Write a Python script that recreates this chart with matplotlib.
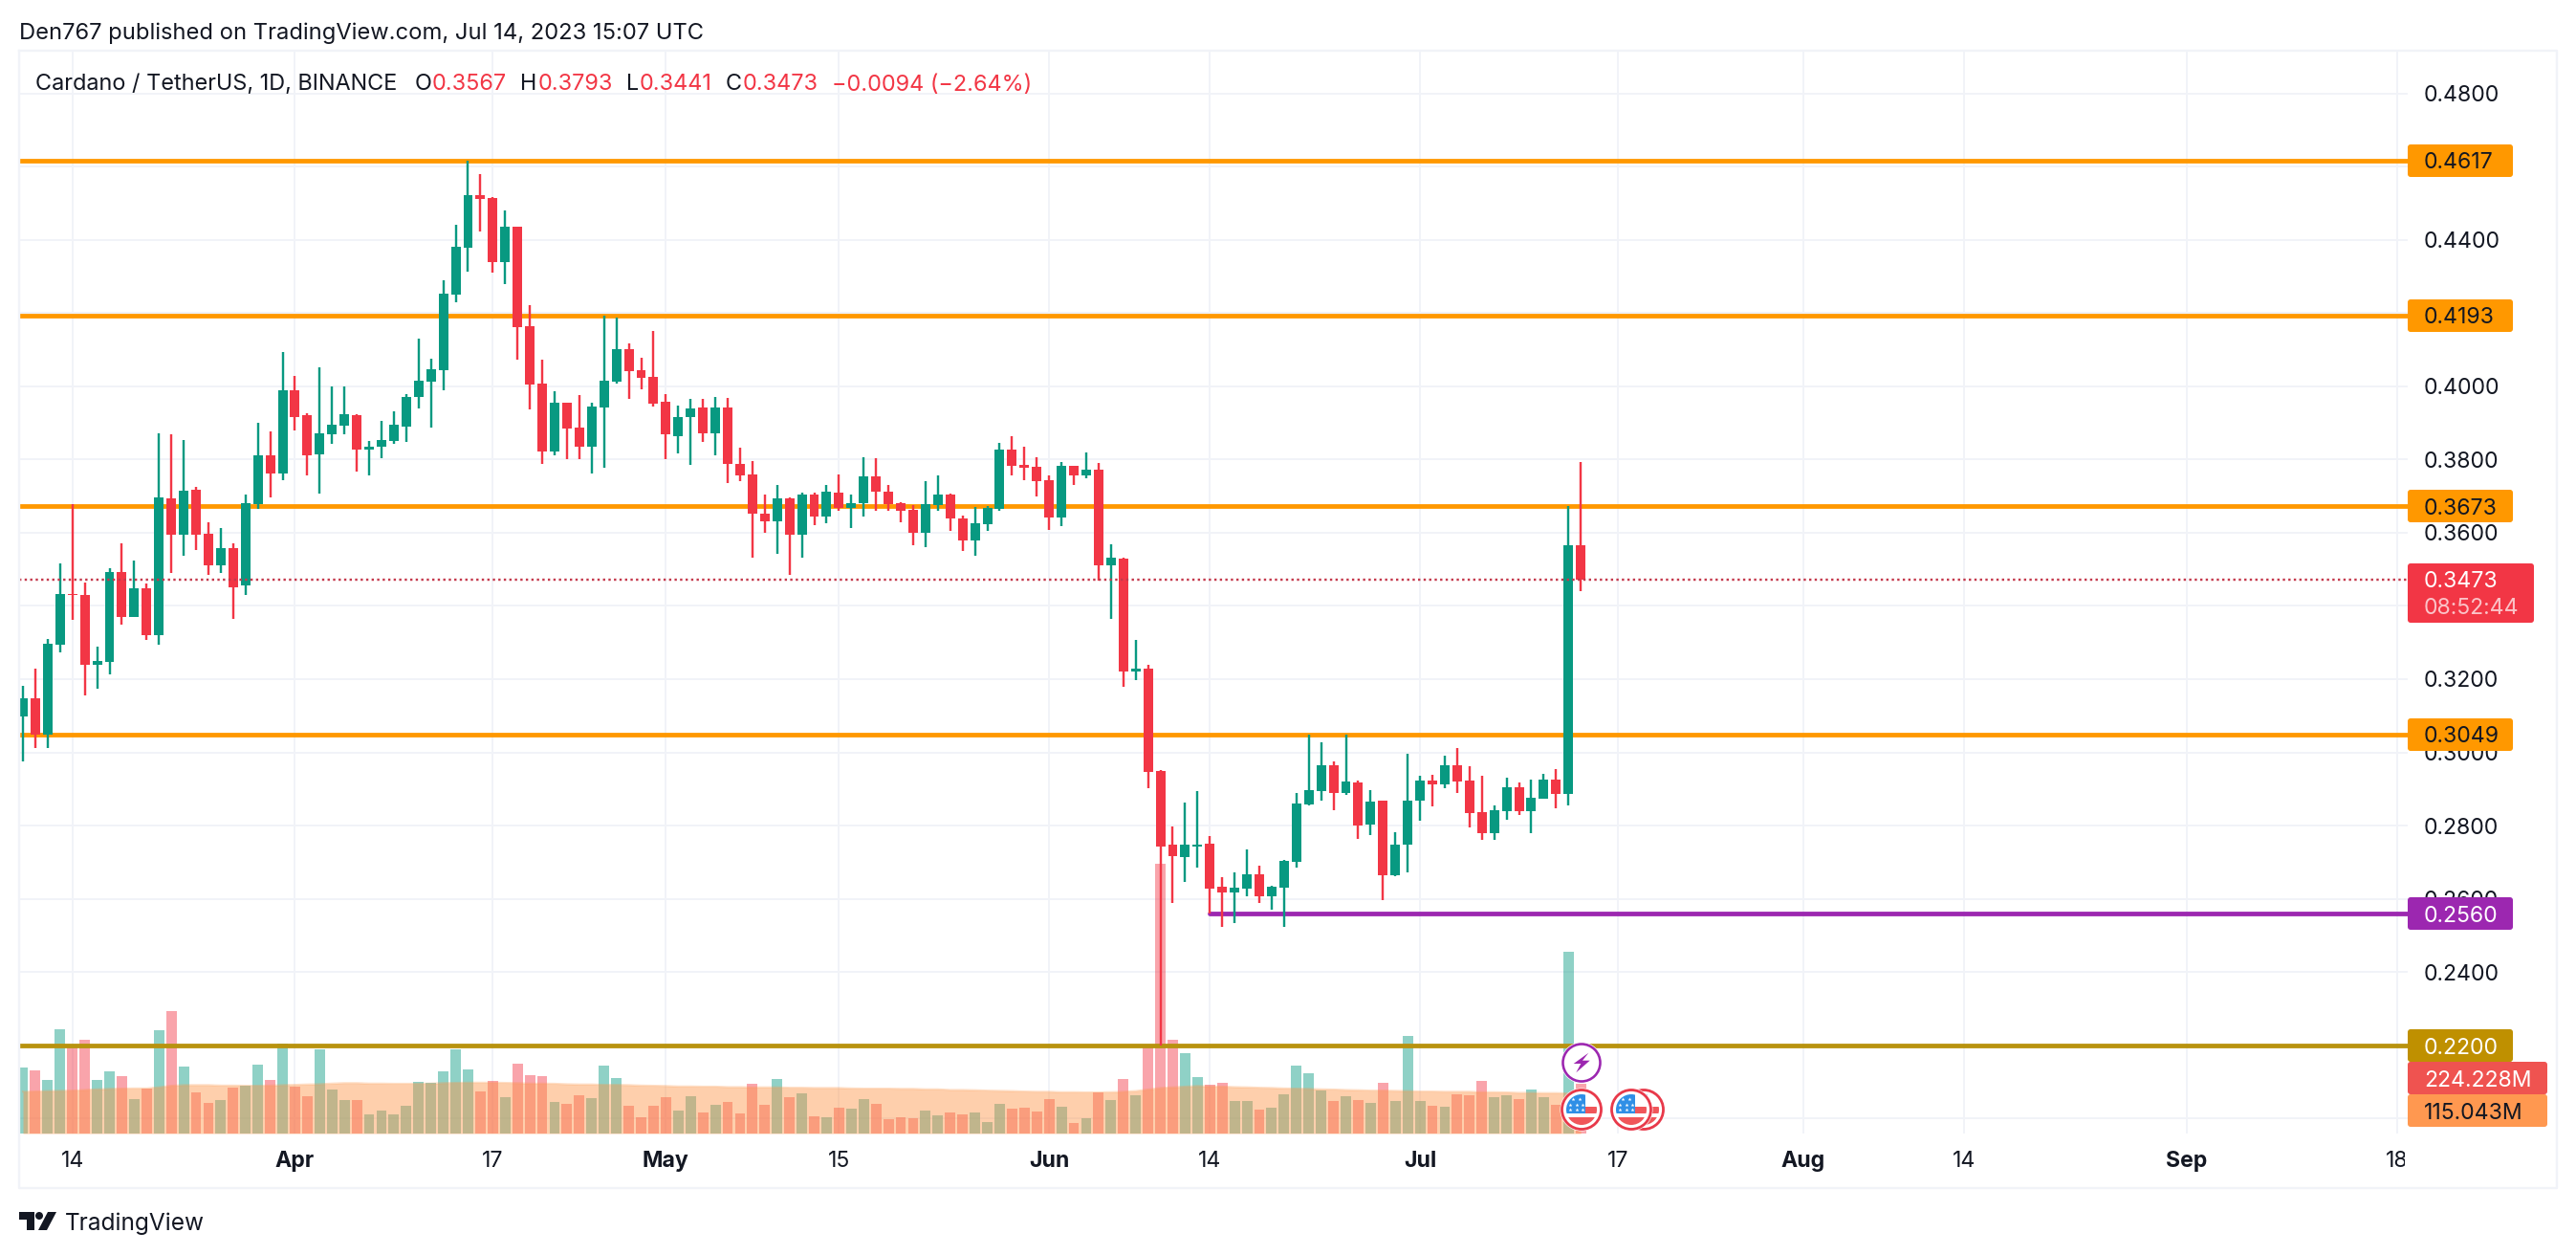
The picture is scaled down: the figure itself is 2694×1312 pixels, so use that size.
"""
plot.py

Recreates a TradingView daily candlestick chart of ADA/USDT with its volume
bars, horizontal price levels and price axis labels.
"""
import matplotlib
matplotlib.use('Agg')
import matplotlib.pyplot as plt
from matplotlib.patches import Circle, FancyBboxPatch, Polygon, Rectangle

plt.rcParams['font.family'] = ['Inter', 'DejaVu Sans']

# one entry per day, starting on Mar 10 2023
opens = [
    .3098, .3148, .3049, .3295, .3433, .3429, .3238, .3248, .3493, .3369,
    .3449, .3319, .3694, .3596, .3718, .3597, .3512, .3558, .3455, .3679,
    .3812, .3761, .3989, .3922, .3814, .3870, .3894, .3922, .3828, .3834,
    .3851, .3890, .3970, .4013, .4044, .4251, .4380, .4523, .4515, .4341,
    .4436, .4165, .4008, .3823, .3956, .3888, .3836, .3943, .4013, .4102,
    .4044, .4026, .3958, .3865, .3916, .3943, .3872, .3943, .3788, .3760,
    .3652, .3632, .3694, .3596, .3705, .3645, .3710, .3669, .3682, .3754,
    .3712, .3680, .3663, .3601, .3677, .3705, .3639, .3580, .3624, .3666,
    .3828, .3786, .3780, .3744, .3643, .3783, .3756, .3772, .3511, .3530,
    .3221, .3229, .2949, .2748, .2714, .2743, .2750, .2632, .2617, .2628,
    .2667, .2607, .2631, .2701, .2857, .2895, .2965, .2889, .2918, .2802,
    .2868, .2664, .2749, .2867, .2923, .2912, .2965, .2923, .2837, .2780,
    .2840, .2905, .2840, .2874, .2925, .2886, .3567,
]
highs = [
    .3181, .3229, .3309, .3516, .3678, .3464, .3288, .3502, .3570, .3524,
    .3461, .3871, .3868, .3854, .3726, .3628, .3612, .3570, .3704, .3900,
    .3876, .4094, .4030, .3928, .4052, .3999, .3999, .3924, .3850, .3905,
    .3931, .3978, .4130, .4075, .4289, .4442, .4618, .4580, .4517, .4480,
    .4436, .4222, .4072, .3988, .3956, .3977, .3955, .4193, .4187, .4117,
    .4078, .4151, .3978, .3948, .3965, .3965, .3971, .3968, .3832, .3795,
    .3704, .3730, .3697, .3709, .3709, .3730, .3759, .3704, .3806, .3803,
    .3730, .3683, .3675, .3740, .3756, .3706, .3646, .3670, .3673, .3845,
    .3863, .3835, .3806, .3758, .3794, .3783, .3820, .3790, .3568, .3532,
    .3306, .3239, .2952, .2797, .2862, .2894, .2771, .2658, .2673, .2734,
    .2690, .2635, .2706, .2888, .3049, .3027, .2975, .3049, .2923, .2897,
    .2868, .2781, .2996, .2935, .2938, .2990, .3013, .2961, .2935, .2854,
    .2931, .2917, .2925, .2940, .2953, .3673, .3793,
]
lows = [
    .2976, .3013, .3013, .3274, .3363, .3156, .3173, .3213, .3350, .3369,
    .3306, .3293, .3491, .3536, .3554, .3486, .3489, .3366, .3429, .3666,
    .3698, .3745, .3881, .3758, .3708, .3844, .3870, .3766, .3758, .3804,
    .3842, .3849, .3941, .3888, .3990, .4231, .4315, .4424, .4312, .4280,
    .4074, .3936, .3789, .3813, .3802, .3802, .3763, .3779, .4009, .3967,
    .3993, .3946, .3802, .3818, .3786, .3849, .3813, .3737, .3740, .3533,
    .3601, .3543, .3486, .3533, .3622, .3627, .3659, .3614, .3645, .3659,
    .3659, .3630, .3567, .3562, .3659, .3604, .3551, .3536, .3606, .3661,
    .3758, .3745, .3700, .3609, .3619, .3731, .3750, .3468, .3365, .3178,
    .3197, .2902, .2200, .2589, .2645, .2684, .2560, .2524, .2534, .2606,
    .2587, .2571, .2522, .2686, .2855, .2867, .2842, .2883, .2763, .2774,
    .2596, .2662, .2671, .2812, .2853, .2902, .2889, .2795, .2762, .2762,
    .2815, .2829, .2779, .2874, .2848, .2855, .3441,
]
closes = [
    .3148, .3049, .3297, .3433, .3429, .3238, .3250, .3493, .3369, .3449,
    .3319, .3697, .3596, .3715, .3596, .3512, .3558, .3452, .3681, .3812,
    .3761, .3989, .3917, .3813, .3872, .3895, .3924, .3828, .3834, .3854,
    .3895, .3971, .4016, .4047, .4253, .4381, .4523, .4512, .4341, .4436,
    .4163, .4006, .3823, .3956, .3886, .3834, .3945, .4016, .4102, .4043,
    .4024, .3953, .3868, .3916, .3940, .3873, .3943, .3787, .3757, .3651,
    .3632, .3694, .3596, .3705, .3645, .3712, .3669, .3680, .3754, .3713,
    .3679, .3661, .3601, .3678, .3705, .3638, .3580, .3626, .3668, .3828,
    .3784, .3779, .3742, .3643, .3783, .3757, .3772, .3511, .3532, .3221,
    .3229, .2947, .2743, .2716, .2748, .2749, .2628, .2617, .2630, .2667,
    .2607, .2632, .2703, .2860, .2897, .2965, .2890, .2920, .2800, .2866,
    .2665, .2749, .2868, .2923, .2913, .2965, .2920, .2835, .2780, .2841,
    .2905, .2840, .2876, .2925, .2886, .3566, .3473,
]
# volume in millions
volumes = [
    298, 285, 242, 471, 399, 423, 242, 281, 259, 156,
    203, 467, 553, 302, 186, 138, 151, 207, 216, 311,
    242, 406, 212, 168, 380, 199, 151, 151, 86, 104,
    86, 125, 233, 229, 281, 380, 289, 190, 238, 164,
    315, 264, 259, 143, 134, 173, 160, 307, 251, 125,
    73, 125, 164, 104, 168, 95, 130, 143, 91, 225,
    130, 246, 164, 181, 78, 73, 117, 112, 156, 134,
    65, 73, 69, 104, 82, 95, 86, 95, 52, 134,
    112, 117, 99, 156, 121, 48, 69, 186, 151, 246,
    173, 396, 1218, 423, 363, 255, 220, 229, 147, 147,
    108, 117, 177, 307, 272, 194, 147, 168, 151, 138,
    229, 147, 441, 147, 125, 121, 177, 173, 238, 164,
    173, 156, 199, 164, 130, 821, 224,
]
volume_ma = [
    189, 190, 192, 193, 194, 197, 200, 202, 203, 204, 204,
    209, 216, 219, 219, 219, 217, 217, 216, 216, 217,
    219, 220, 222, 223, 226, 228, 228, 226, 226, 225,
    225, 225, 226, 228, 229, 230, 230, 230, 229, 228,
    226, 226, 225, 223, 222, 222, 220, 220, 219, 217,
    216, 215, 213, 213, 212, 212, 210, 210, 209, 209,
    209, 207, 207, 206, 206, 206, 204, 203, 203, 203,
    202, 202, 200, 200, 197, 197, 196, 194, 193, 192,
    190, 189, 189, 187, 187, 186, 186, 187, 189, 192,
    199, 206, 209, 212, 215, 213, 212, 210, 209, 207,
    206, 204, 203, 202, 200, 199, 197, 196, 194, 194,
    193, 192, 190, 190, 189, 189, 189, 187, 187, 186,
    184, 184, 183, 183, 181, 181,
]

price_ticks = [.20, .22, .24, .26, .28, .30, .32, .34, .36, .38, .40, .42, .44, .46, .48]
price_labels = ['0.2000', '', '0.2400', '0.2600', '0.2800', '0.3000', '0.3200', '',
                '0.3600', '0.3800', '0.4000', '', '0.4400', '', '0.4800']
date_ticks = [4, 22, 38, 52, 66, 83, 96, 113, 129, 144, 157, 175, 192]
date_labels = ['14', 'Apr', '17', 'May', '15', 'Jun', '14', 'Jul', '17', 'Aug', '14', 'Sep', '18']
month_labels = ['Apr', 'May', 'Jun', 'Jul', 'Aug', 'Sep']

orange_levels = [.4617, .4193, .3673, .3049]
support_start = 96
support_level = .2560
gold_level = .2200
last_close = .3473

GREEN = '#089981'
RED = '#f23645'
ORANGE = '#ff9800'
PURPLE = '#9c27b0'
GOLD = '#b8930f'
GRID = '#f1f3f8'
INK = '#131722'

W, H = 2694, 1312
PX = 72 / 100  # points per pixel at dpi 100

fig = plt.figure(figsize=(W / 100, H / 100), dpi=100, facecolor='white')

# chart pane, 12.93 px per day with day 0 at x=24
ax = fig.add_axes([20 / W, 1 - 1185 / H, 2498 / W, 1132 / H])
ax.set_xlim(-4 / 12.93, 2494 / 12.93)
ax.set_ylim(.19582, .49176)
for spine in ax.spines.values():
    spine.set_visible(False)

ax.set_axisbelow(True)
ax.grid(True, color=GRID, linewidth=2 * PX)
ax.yaxis.tick_right()
ax.set_yticks(price_ticks, labels=price_labels)
ax.set_xticks(date_ticks, labels=date_labels)
ax.tick_params(axis='both', length=0, labelsize=16.6, labelcolor=INK)
ax.tick_params(axis='y', pad=12)
ax.tick_params(axis='x', pad=13)
for label in ax.get_xticklabels():
    if label.get_text() in month_labels:
        label.set_fontweight('bold')

days = list(range(len(closes)))

# volume lives in the same axes, scaled on axes height so it stays at the bottom
volume_top = 4890.0
volume_colors = [GREEN if c >= o else RED for o, c in zip(opens, closes)]
ax.bar(days, [v / volume_top for v in volumes], width=0.84, color=volume_colors,
       alpha=0.45, linewidth=0, zorder=2, transform=ax.get_xaxis_transform())
ma_fraction = [v / volume_top for v in volume_ma]
ax.fill_between(days, 0, ma_fraction, color='#fd9547', alpha=0.45, linewidth=0,
                zorder=3, transform=ax.get_xaxis_transform())
ax.plot(days, ma_fraction, color='#fd9547', alpha=0.3, linewidth=2 * PX,
        zorder=3, transform=ax.get_xaxis_transform())

# horizontal levels sit under the candles
for level in orange_levels:
    ax.axhline(level, color=ORANGE, linewidth=4.8 * PX, zorder=4)
ax.axhline(gold_level, color=GOLD, linewidth=4.8 * PX, zorder=4)
ax.plot([support_start, ax.get_xlim()[1]], [support_level, support_level], color=PURPLE,
        linewidth=4.8 * PX, zorder=4, solid_capstyle='round')

# candles
candle_colors = [GREEN if c >= o else RED for o, c in zip(opens, closes)]
ax.vlines(days, lows, highs, colors=candle_colors, linewidth=2.4 * PX, zorder=5)
ax.bar(days, [max(abs(c - o), .0004) for o, c in zip(opens, closes)],
       bottom=[min(o, c) for o, c in zip(opens, closes)], width=0.77,
       color=candle_colors, linewidth=0, zorder=6)

ax.axhline(last_close, color='#c4394c', linewidth=2.4 * PX, linestyle=(0, (1, 1.4)), zorder=7)

# everything below is chrome, drawn in pixel coordinates on top of the chart
over = fig.add_axes([0, 0, 1, 1], zorder=10)
over.set_xlim(0, W)
over.set_ylim(H, 0)
over.axis('off')
over.patch.set_visible(False)

# hides the part of the last date label that runs under the price scale
over.add_patch(Rectangle((2515, 1186), 157, 54, color='white', linewidth=0))

# frame
over.plot([20, 2674, 2674, 20, 20], [53, 53, 1242, 1242, 53], color=GRID, linewidth=2.4 * PX)


def price_tag(y, width, height, color, text, text_color, text_y=None):
    over.add_patch(FancyBboxPatch((2518, y), width, height, boxstyle='round,pad=0,rounding_size=3',
                                  facecolor=color, edgecolor='none', linewidth=0))
    if text_y is None:
        text_y = y + height / 2
    over.text(2535, text_y, text, color=text_color, fontsize=16.6, va='center_baseline', ha='left')


price_tag(151, 110, 34, ORANGE, '0.4617', INK)
price_tag(313, 110, 34, ORANGE, '0.4193', INK)
price_tag(512, 110, 34, ORANGE, '0.3673', INK)
price_tag(751, 110, 34, ORANGE, '0.3049', INK)
price_tag(938, 110, 34, PURPLE, '0.2560', 'white')
price_tag(1076, 110, 34, '#bf9000', '0.2200', 'white')
price_tag(1110, 146, 34, '#ef5350', '224.228M', 'white')
price_tag(1144, 146, 34, '#ff9850', '115.043M', INK)
price_tag(589, 132, 62, RED, '0.3473', 'white', text_y=606)
over.text(2535, 634, '08:52:44', color='#fbc3c8', fontsize=16.6, va='center_baseline', ha='left')

# header texts
over.text(20, 32, 'Den767 published on TradingView.com, Jul 14, 2023 15:07 UTC', color=INK,
          fontsize=17.08, va='center_baseline', ha='left')
over.text(37, 86, 'Cardano / TetherUS, 1D, BINANCE', color=INK, fontsize=16.9,
          va='center_baseline', ha='left')
legend_items = [
    (434, 'O', INK), (452, '0.3567', RED), (544, 'H', INK), (563, '0.3793', RED),
    (655, 'L', INK), (669, '0.3441', RED), (759, 'C', INK), (777, '0.3473', RED),
    (870, '\u22120.0094 (\u22122.64%)', RED),
]
for x, text, color in legend_items:
    over.text(x, 86, text, color=color, fontsize=16.9, va='center_baseline', ha='left')

# TradingView logo and name
over.add_patch(Polygon([(20, 1267), (36, 1267), (36, 1286), (28, 1286), (28, 1275), (20, 1275)],
                       color=INK, linewidth=0))
over.add_patch(Circle((41, 1271), 4, color=INK, linewidth=0))
over.add_patch(Polygon([(50, 1267), (59, 1267), (49, 1286), (40, 1286)], color=INK, linewidth=0))
over.text(68, 1277, 'TradingView', color=INK, fontsize=17.6,
          va='center_baseline', ha='left')


def flag_icon(x, y):
    over.add_patch(Circle((x, y), 22.5, facecolor='white', edgecolor='none'))
    over.add_patch(Circle((x, y), 20.5, facecolor='white', edgecolor='#e8394a', linewidth=2.8 * PX))
    inner = Circle((x, y), 16, transform=over.transData)
    blue = Rectangle((x - 16, y - 16), 20, 20, color='#2f8fe6', linewidth=0)
    stripe_a = Rectangle((x + 4, y - 3), 13, 7, color='#f0565a', linewidth=0)
    stripe_b = Rectangle((x - 17, y + 8), 34, 9, color='#f0565a', linewidth=0)
    for part in (blue, stripe_a, stripe_b):
        over.add_patch(part)
        part.set_clip_path(inner)
    star_x = [x - 9, x - 2, x - 12, x - 5, x + 1, x - 12, x - 5, x + 1]
    star_y = [y - 11, y - 11, y - 5, y - 5, y - 5, y + 0, y + 0, y + 0]
    over.scatter(star_x, star_y, s=9, marker='*', color='white', linewidths=0)


def lightning_icon(x, y):
    over.add_patch(Circle((x, y), 21.5, facecolor='white', edgecolor='none'))
    over.add_patch(Circle((x, y), 19.5, facecolor='white', edgecolor=PURPLE, linewidth=2.6 * PX))
    bolt = [(7.3, -10.3), (-8.3, 1), (-0.7, 1), (-5.7, 10.3), (8.7, -2.3), (1, -2.3)]
    over.add_patch(Polygon([(x + dx, y + dy) for dx, dy in bolt], color=PURPLE, linewidth=0))


flag_icon(1719, 1160)
flag_icon(1706, 1160)
flag_icon(1654, 1160)
lightning_icon(1654, 1111)

fig.savefig('out.png', dpi=100, facecolor='white')
